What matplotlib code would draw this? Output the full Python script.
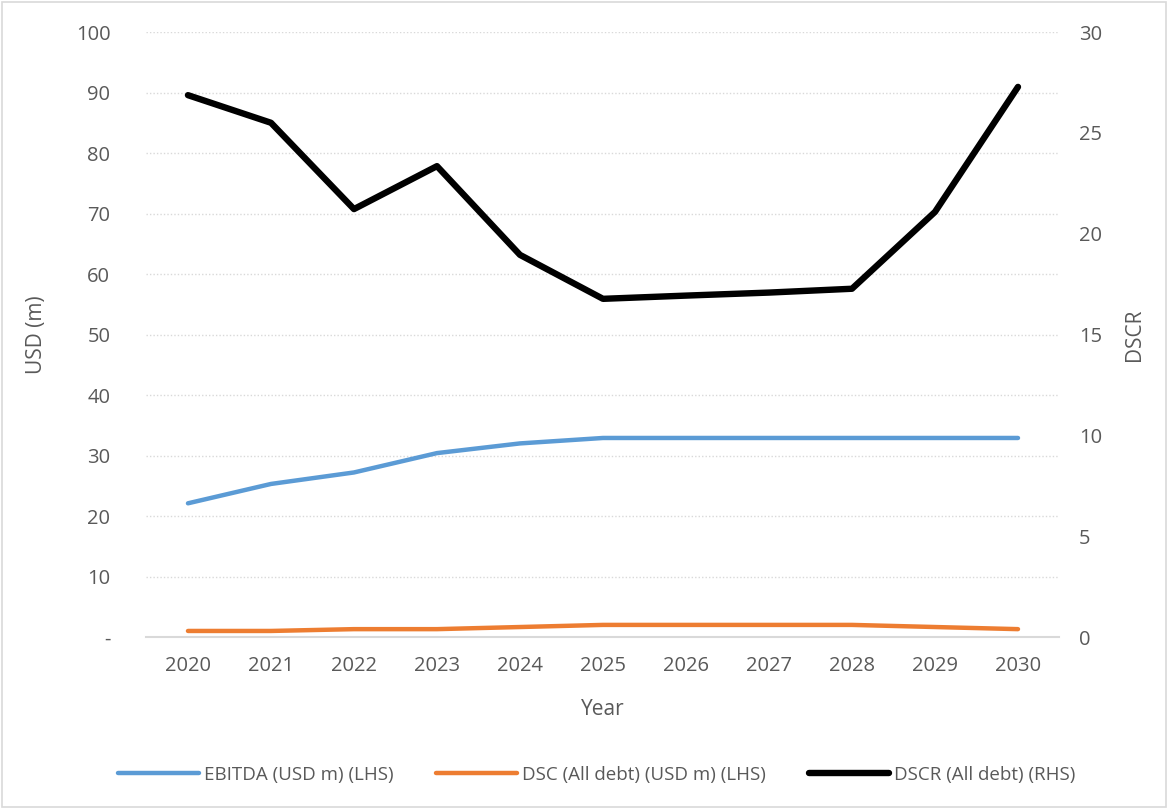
import matplotlib
matplotlib.use("Agg")
import matplotlib.pyplot as plt
from matplotlib.patches import Rectangle

years = [2020, 2021, 2022, 2023, 2024, 2025, 2026, 2027, 2028, 2029, 2030]
ebitda = [22.1, 25.3, 27.2, 30.4, 32.0, 32.9, 32.9, 32.9, 32.9, 32.9, 32.9]
dsc = [1.0, 1.0, 1.3, 1.3, 1.65, 2.0, 2.0, 2.0, 2.0, 1.65, 1.3]
dscr = [26.87, 25.5, 21.22, 23.35, 18.95, 16.77, 16.93, 17.08, 17.27, 21.08, 27.28]

left_ticks = [0, 10, 20, 30, 40, 50, 60, 70, 80, 90, 100]
left_labels = ["-", "10", "20", "30", "40", "50", "60", "70", "80", "90", "100"]
right_ticks = [0, 5, 10, 15, 20, 25, 30]

plt.rcParams['font.family'] = ['Open Sans', 'DejaVu Sans']
txt = '#595959'
grid_c = '#d9d9d9'

fig = plt.figure(figsize=(11.68, 8.09), dpi=100)
fig.patches.append(Rectangle((0.002, 0.002), 0.996, 0.996, transform=fig.transFigure,
                             fill=False, edgecolor='#d9d9d9', linewidth=1.2))
ax = fig.add_axes([0.1254, 0.2126, 0.7817, 0.7478])
ax2 = ax.twinx()

x = list(range(len(years)))
l1, = ax.plot(x, ebitda, color='#5b9bd5', lw=3.2, solid_capstyle='round', label='EBITDA (USD m) (LHS)')
l2, = ax.plot(x, dsc, color='#ed7d31', lw=3.2, solid_capstyle='round', label='DSC (All debt) (USD m) (LHS)')
l3, = ax2.plot(x, dscr, color='black', lw=4.6, solid_capstyle='round', label='DSCR (All debt) (RHS)')

ax.set_xlim(-0.5, len(years) - 0.5)
ax.set_ylim(0, 100)
ax2.set_ylim(0, 30)
ax.set_yticks(left_ticks)
ax.set_yticklabels(left_labels)
ax2.set_yticks(right_ticks)
ax.set_xticks(x)
ax.set_xticklabels([str(y) for y in years])

for a in (ax, ax2):
    for s in a.spines.values():
        s.set_visible(False)
    a.tick_params(length=0, labelsize=14.5, labelcolor=txt)
ax.spines['bottom'].set_visible(True)
ax.spines['bottom'].set_color(grid_c)
ax.spines['bottom'].set_linewidth(1.5)
ax.tick_params(axis='y', pad=26)
ax.tick_params(axis='x', pad=14)
ax2.tick_params(axis='y', pad=14)

ax.grid(axis='y', color=grid_c, linestyle=(0, (1, 1.5)), linewidth=1)
ax.set_axisbelow(True)
ax.set_xlabel('Year', fontsize=15, color=txt, labelpad=16)
ax.set_ylabel('USD (m)', fontsize=15, color=txt, labelpad=21)
ax2.set_ylabel('DSCR', fontsize=15, color=txt, labelpad=16)

fig.legend(handles=[l1, l2, l3], loc='center', bbox_to_anchor=(0.511, 0.042), ncol=3,
           frameon=False, fontsize=13.5, labelcolor=txt, handlelength=4.3,
           columnspacing=2.3, handletextpad=0.25)

fig.savefig('out.png', dpi=100)
